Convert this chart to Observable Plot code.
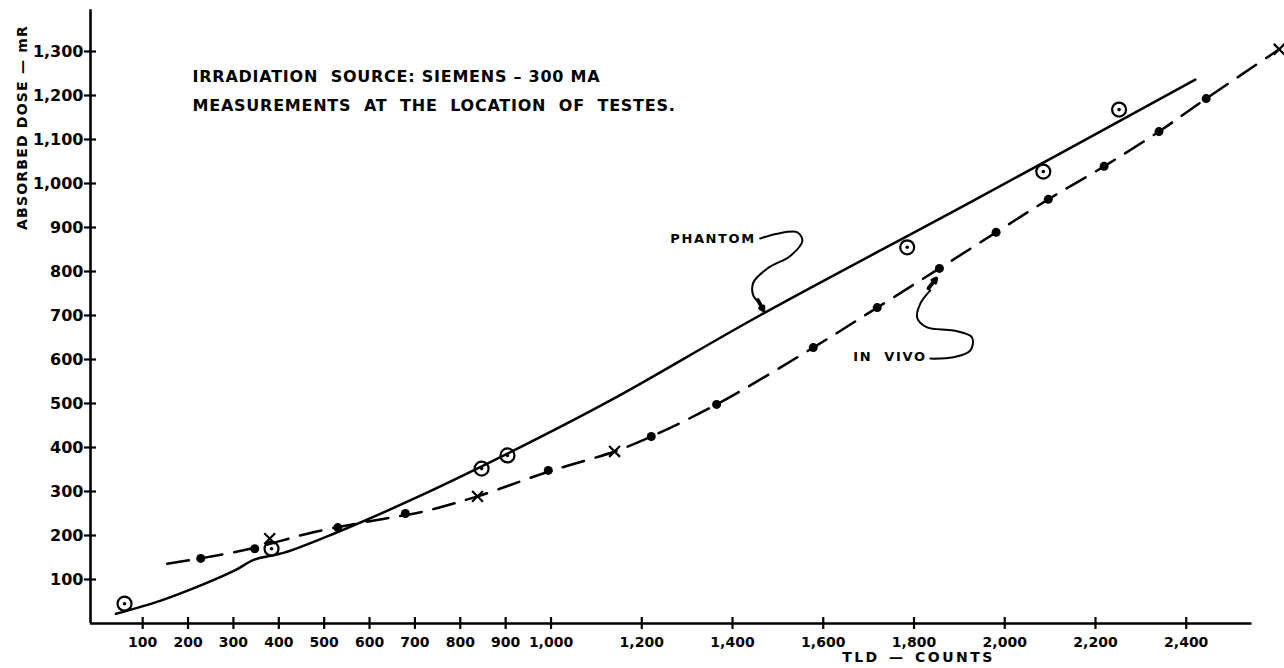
<!DOCTYPE html>
<html>
<head>
<meta charset="utf-8">
<script src="https://cdn.jsdelivr.net/npm/d3@7"></script>
<script src="https://cdn.jsdelivr.net/npm/@observablehq/plot@0.6"></script>
<style>
html, body { margin: 0; padding: 0; background: #fff; }
#chart svg text { font-family: "DejaVu Sans", sans-serif; font-weight: bold; fill: #000; }
</style>
</head>
<body>
<div id="chart"></div>
<script>
// ---- tick labels ----
const xTicks = [100, 200, 300, 400, 500, 600, 700, 800, 900, 1000, 1200, 1400, 1600, 1800, 2000, 2200, 2400];
const yTicks = [100, 200, 300, 400, 500, 600, 700, 800, 900, 1000, 1100, 1200, 1300];

// ---- axis extents ----
const xStart = -15, xAxisEnd = 2545, xEnd = 2610;
const yAxisTop = 1395, yEnd = 1400;

// ---- Phantom measurements (circled dots) [TLD counts, dose mR] ----
const phantomPoints = [[60, 45], [384, 170], [847, 352], [904, 382], [1785, 855], [2085, 1027], [2252, 1168]];
// Phantom fitted curve (solid), traced
const phantomCurve = [[41, 22], [140, 52], [236, 90], [302, 120], [346, 145], [412, 161], [521, 204], [705, 287], [904, 386], [1131, 507], [1460, 700], [1931, 961], [2420, 1236]];

// ---- In vivo measurements ----
const inVivoDots = [[228, 148], [347, 170], [530, 218], [679, 250], [994, 348], [1221, 425], [1365, 498], [1578, 627], [1719, 718], [1856, 807], [1981, 889], [2096, 964], [2219, 1039], [2340, 1118], [2444, 1193]];
const inVivoCrosses = [[380, 193], [838, 289], [1140, 391], [2605, 1305]];
// In vivo fitted curve (dashed), traced
const inVivoCurve = [[154, 136], [228, 148], [347, 172], [474, 207], [620, 236], [717, 254], [838, 289], [994, 345], [1140, 391], [1221, 425], [1365, 498], [1578, 627], [1719, 718], [1856, 807], [1981, 889], [2096, 964], [2219, 1039], [2340, 1118], [2444, 1193], [2605, 1305]];

// ---- annotations ----
const noteLines = ["IRRADIATION  SOURCE: SIEMENS – 300 MA", "MEASUREMENTS  AT  THE  LOCATION  OF  TESTES."];
const noteX = [210, 210];
const noteY = [1243, 1177];
const seriesLabels = ["PHANTOM", "IN  VIVO"];
const seriesLabelX = [1263, 1666];
const seriesLabelY = [875, 605];
const phantomArrow = [[1461, 875], [1499, 886], [1543, 889], [1554, 870], [1528, 836], [1477, 807], [1446, 775], [1446, 745], [1461, 727]];
const inVivoArrow = [[1836, 602], [1887, 605], [1924, 620], [1928, 650], [1887, 666], [1829, 673], [1807, 695], [1814, 727], [1836, 757]];
const arrowHeadSegments = [[1456, 735, 1468, 712], [1832, 762, 1849, 784]];
const xTitle = "TLD — COUNTS";
const yTitle = "ABSORBED DOSE — mR";

const X = d => d[0], Y = d => d[1];

// geometry
const W = 1284, H = 668, mL = 90, mR = 3, mT = 7, mB = 45;
const tickHalfPx = 6;
const xUnitsPerPx = (xEnd - xStart) / (W - mL - mR);
const yUnitsPerPx = yEnd / (H - mT - mB);
const px2x = px => xStart + (px - mL) * xUnitsPerPx;
const px2y = py => (H - mB - py) * yUnitsPerPx;
const fmt = d3.format(",");

const plot = Plot.plot({
  width: W,
  height: H,
  marginLeft: mL,
  marginRight: mR,
  marginTop: mT,
  marginBottom: mB,
  x: {domain: [xStart, xEnd], axis: null},
  y: {domain: [0, yEnd], axis: null},
  style: {background: "#fff", color: "#000", fontFamily: "DejaVu Sans"},
  marks: [
    // axis lines
    Plot.ruleY([0], {x1: xStart, x2: xAxisEnd, stroke: "#000", strokeWidth: 2.6}),
    Plot.ruleX([xStart], {y1: 0, y2: yAxisTop, stroke: "#000", strokeWidth: 2.6}),
    // crossing tick marks
    Plot.ruleX(xTicks, {x: d => d, y1: -tickHalfPx * yUnitsPerPx, y2: tickHalfPx * yUnitsPerPx, stroke: "#000", strokeWidth: 2.2}),
    Plot.ruleY(yTicks, {y: d => d, x1: xStart - tickHalfPx * xUnitsPerPx, x2: xStart + tickHalfPx * xUnitsPerPx, stroke: "#000", strokeWidth: 2.2}),
    // tick labels
    Plot.text(xTicks, {x: d => d, y: 0, dy: 19, text: d => fmt(d), fontSize: 14}),
    Plot.text(yTicks, {x: xStart, y: d => d, dx: -7, textAnchor: "end", text: d => fmt(d), fontSize: 16}),
    // curves
    Plot.line(phantomCurve, {x: X, y: Y, curve: "catmull-rom", stroke: "#000", strokeWidth: 2.5}),
    Plot.line(inVivoCurve, {x: X, y: Y, curve: "catmull-rom", stroke: "#000", strokeWidth: 2.5, strokeDasharray: "22,12"}),
    // markers
    Plot.dot(phantomPoints, {x: X, y: Y, r: 7, stroke: "#000", strokeWidth: 2.2, fill: "none"}),
    Plot.dot(phantomPoints, {x: X, y: Y, r: 1.8, fill: "#000"}),
    Plot.dot(inVivoDots, {x: X, y: Y, r: 4.5, fill: "#000"}),
    Plot.dot(inVivoCrosses, {x: X, y: Y, symbol: "times", r: 5, stroke: "#000", strokeWidth: 2.2}),
    // annotation arrows
    Plot.line(phantomArrow, {x: X, y: Y, curve: "catmull-rom", stroke: "#000", strokeWidth: 2}),
    Plot.line(inVivoArrow, {x: X, y: Y, curve: "catmull-rom", stroke: "#000", strokeWidth: 2}),
    Plot.arrow(arrowHeadSegments, {x1: d => d[0], y1: d => d[1], x2: d => d[2], y2: d => d[3], stroke: "#000", strokeWidth: 3.8, headLength: 11, headAngle: 55}),
    // texts
    Plot.text(noteLines, {x: (d, i) => noteX[i], y: (d, i) => noteY[i], text: d => d, textAnchor: "start", fontSize: 16}),
    Plot.text(seriesLabels, {x: (d, i) => seriesLabelX[i], y: (d, i) => seriesLabelY[i], text: d => d, textAnchor: "start", fontSize: 13}),
    Plot.text([xTitle], {x: px2x(918), y: px2y(657), textAnchor: "middle", text: d => d, fontSize: 14}),
    Plot.text([yTitle], {x: px2x(22), y: px2y(127), rotate: -90, textAnchor: "middle", text: d => d, fontSize: 14})
  ]
});
document.getElementById("chart").appendChild(plot);

// letter spacing by text role
const yLabSet = new Set(yTicks.map(fmt));
d3.select(plot).selectAll("text").each(function() {
  const t = this.textContent;
  const s = this.style;
  if (noteLines.includes(t)) { s.letterSpacing = "0.75px"; }
  else if (seriesLabels.includes(t)) { s.letterSpacing = "1.6px"; }
  else if (t === xTitle) { s.letterSpacing = "2.5px"; s.wordSpacing = "2px"; }
  else if (t === yTitle) { s.letterSpacing = "1.2px"; }
  else if (yLabSet.has(t) && this.getAttribute("text-anchor") === "end") { s.letterSpacing = "1.5px"; }
});
</script>
</body>
</html>
